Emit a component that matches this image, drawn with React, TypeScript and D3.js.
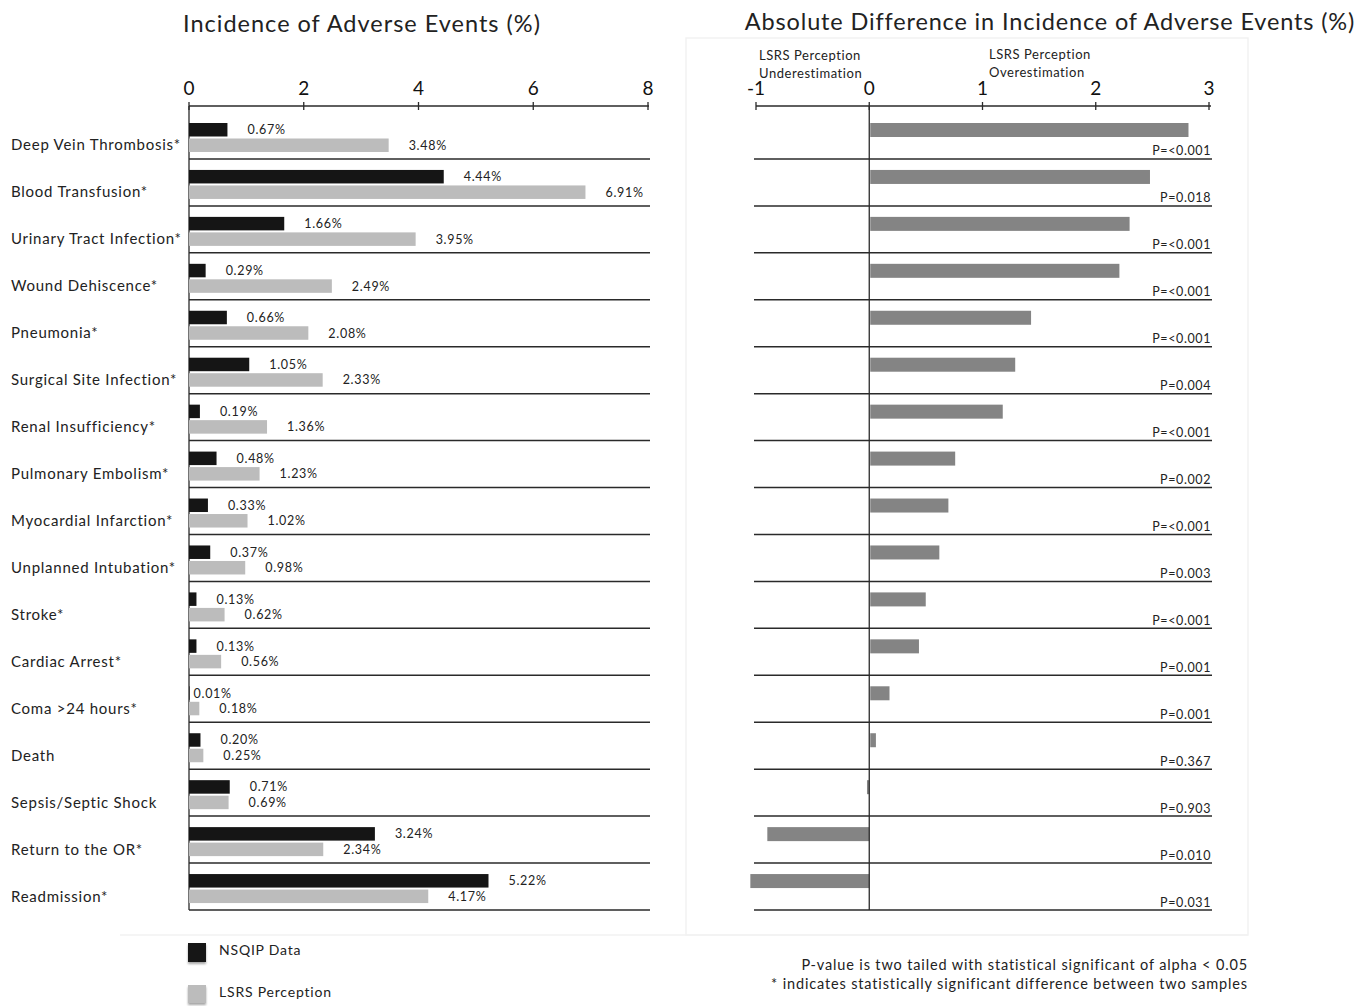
import React from "react";
import * as d3 from "d3";

const categories = [
  "Deep Vein Thrombosis*",
  "Blood Transfusion*",
  "Urinary Tract Infection*",
  "Wound Dehiscence*",
  "Pneumonia*",
  "Surgical Site Infection*",
  "Renal Insufficiency*",
  "Pulmonary Embolism*",
  "Myocardial Infarction*",
  "Unplanned Intubation*",
  "Stroke*",
  "Cardiac Arrest*",
  "Coma >24 hours*",
  "Death",
  "Sepsis/Septic Shock",
  "Return to the OR*",
  "Readmission*",
];

const nsqip = [0.67, 4.44, 1.66, 0.29, 0.66, 1.05, 0.19, 0.48, 0.33, 0.37, 0.13, 0.13, 0.01, 0.2, 0.71, 3.24, 5.22];
const lsrs = [3.48, 6.91, 3.95, 2.49, 2.08, 2.33, 1.36, 1.23, 1.02, 0.98, 0.62, 0.56, 0.18, 0.25, 0.69, 2.34, 4.17];
const pValues = [
  "P=<0.001", "P=0.018", "P=<0.001", "P=<0.001", "P=<0.001", "P=0.004", "P=<0.001", "P=0.002",
  "P=<0.001", "P=0.003", "P=<0.001", "P=0.001", "P=0.001", "P=0.367", "P=0.903", "P=0.010", "P=0.031",
];
const leftTicks = [0, 2, 4, 6, 8];
const rightTicks = [-1, 0, 1, 2, 3];

const FONT = "Lato, 'Open Sans', sans-serif";
const LINE = "#2a2a2a";
const BLACK = "#151515";
const LIGHT = "#bcbcbc";
const MID = "#848484";

export default function App() {
  const W = 1366;
  const H = 1006;

  const y = d3.scaleBand<string>().domain(categories).range([112, 910]).paddingInner(0).paddingOuter(0);
  const step = y.step();

  const xL = d3.scaleLinear().domain([0, 8]).range([189, 648]);
  const xR = d3.scaleLinear().domain([-1, 3]).range([756, 1209]);

  const axisY = 106;
  const diffs = categories.map((_, i) => +(lsrs[i] - nsqip[i]).toFixed(2));

  const fmt = (v: number) => v.toFixed(2) + "%";

  return (
    <svg
      width={W}
      height={H}
      viewBox={`0 0 ${W} ${H}`}
      style={{ position: "absolute", left: 0, top: 0, background: "#fff", fontFamily: FONT }}
    >
      <defs>
        <filter id="shadow" x="-30%" y="-30%" width="160%" height="170%">
          <feDropShadow dx="0" dy="2" stdDeviation="1.2" floodColor="#000" floodOpacity="0.35" />
        </filter>
      </defs>

      {/* faint panel frames */}
      <rect x={686} y={38} width={562} height={897} fill="none" stroke="#f2f2f2" strokeWidth={1.5} />
      <line x1={120} x2={1248} y1={935} y2={935} stroke="#f2f2f2" strokeWidth={1.5} />

      {/* titles */}
      <text x={362} y={32} textAnchor="middle" fontSize={23.5} letterSpacing={1} fill="#222">
        Incidence of Adverse Events (%)
      </text>
      <text x={1050} y={30} textAnchor="middle" fontSize={23.5} letterSpacing={0.85} fill="#222">
        Absolute Difference in Incidence of Adverse Events (%)
      </text>

      {/* left axis */}
      <line x1={xL(0)} x2={xL(8) + 1} y1={axisY} y2={axisY} stroke={LINE} strokeWidth={1.5} />
      {leftTicks.map((t) => (
        <g key={"lt" + t}>
          <line x1={xL(t)} x2={xL(t)} y1={axisY - 4} y2={axisY + 4} stroke={LINE} strokeWidth={1.3} />
          <text x={xL(t)} y={95} textAnchor="middle" fontSize={19} fill="#111">
            {t}
          </text>
        </g>
      ))}
      <line x1={xL(0)} x2={xL(0)} y1={axisY} y2={910} stroke={LINE} strokeWidth={1.3} />

      {/* left rows */}
      {categories.map((c, i) => {
        const top = y(c)!;
        const bottom = top + step;
        const bY = top + 11;
        const gY = top + 26.5;
        const bh = 13.5;
        const offN = nsqip[i] < 0.05 ? 4 : 20;
        const offL = lsrs[i] < 0.05 ? 4 : 20;
        return (
          <g key={"l" + c}>
            <text x={11} y={top + step / 2 + 15} fontSize={15} letterSpacing={0.75} fill="#222">
              {c}
            </text>
            <rect x={xL(0)} y={bY} width={xL(nsqip[i]) - xL(0)} height={bh} fill={BLACK} />
            <rect x={xL(0)} y={gY} width={xL(lsrs[i]) - xL(0)} height={bh} fill={LIGHT} />
            <text x={xL(nsqip[i]) + offN} y={bY + bh / 2 + 4.5} fontSize={12.5} letterSpacing={0.7} fill="#222">
              {fmt(nsqip[i])}
            </text>
            <text x={xL(lsrs[i]) + offL} y={gY + bh / 2 + 4.5} fontSize={12.5} letterSpacing={0.7} fill="#222">
              {fmt(lsrs[i])}
            </text>
            <line x1={xL(0)} x2={650} y1={bottom} y2={bottom} stroke={LINE} strokeWidth={1.5} />
          </g>
        );
      })}

      {/* right header */}
      <g fontSize={13} letterSpacing={0.55} fill="#222">
        <text x={759} y={60}>LSRS Perception</text>
        <text x={759} y={78}>Underestimation</text>
        <text x={989} y={59}>LSRS Perception</text>
        <text x={989} y={77}>Overestimation</text>
      </g>

      {/* right axis */}
      <line x1={xR(-1)} x2={xR(3) + 2} y1={axisY} y2={axisY} stroke={LINE} strokeWidth={1.5} />
      {rightTicks.map((t) => (
        <g key={"rt" + t}>
          <line x1={xR(t)} x2={xR(t)} y1={axisY - 4} y2={axisY + 4} stroke={LINE} strokeWidth={1.3} />
          <text x={xR(t)} y={95} textAnchor="middle" fontSize={19} fill="#111">
            {t}
          </text>
        </g>
      ))}

      {/* right rows */}
      {categories.map((c, i) => {
        const top = y(c)!;
        const bottom = top + step;
        const d = diffs[i];
        const x0 = Math.min(xR(0), xR(d));
        const w = Math.abs(xR(d) - xR(0));
        return (
          <g key={"r" + c}>
            <rect x={x0 + (d > 0 ? 1 : 0)} y={top + 11} width={w} height={14} fill={MID} />
            <text x={1211} y={bottom - 3.5} textAnchor="end" fontSize={12.5} letterSpacing={0.6} fill="#222">
              {pValues[i]}
            </text>
            <line x1={754} x2={1212} y1={bottom} y2={bottom} stroke={LINE} strokeWidth={1.5} />
          </g>
        );
      })}
      <line x1={xR(0)} x2={xR(0)} y1={axisY} y2={910} stroke={LINE} strokeWidth={1.3} />

      {/* legend */}
      <rect x={188} y={943} width={18} height={19} fill={BLACK} filter="url(#shadow)" />
      <text x={219} y={955} fontSize={14} letterSpacing={0.8} fill="#222">NSQIP Data</text>
      <rect x={188} y={985} width={18} height={18} fill={LIGHT} filter="url(#shadow)" />
      <text x={219} y={997} fontSize={14} letterSpacing={0.8} fill="#222">LSRS Perception</text>

      {/* footnotes */}
      <g fontSize={14.5} letterSpacing={0.85} fill="#222" textAnchor="end">
        <text x={1248} y={970}>P-value is two tailed with statistical significant of alpha &lt; 0.05</text>
        <text x={1248} y={989}>* indicates statistically significant difference between two samples</text>
      </g>
    </svg>
  );
}
